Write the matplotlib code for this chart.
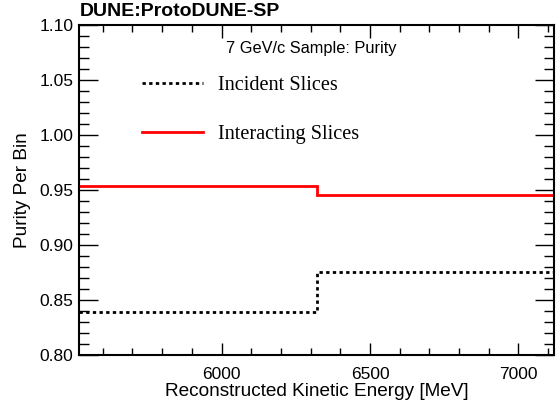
import matplotlib
matplotlib.use("Agg")
import matplotlib.pyplot as plt
from matplotlib.ticker import MultipleLocator
import numpy as np

# bin edges (MeV) and per-bin purity
bin_edges = [5520, 6320, 7120]
incident_purity = [0.8394, 0.8753]
interacting_purity = [0.9536, 0.9456]

plt.rcParams['font.family'] = ['Liberation Sans', 'DejaVu Sans']

fig = plt.figure(figsize=(5.6, 4.08), dpi=100)
ax = fig.add_axes([79 / 560, 1 - 355 / 408, (554 - 79) / 560, (355 - 25) / 408])

ax.stairs(incident_purity, bin_edges, color='black', linestyle=(0, (1.2, 1.2)),
          linewidth=2.0, baseline=None, label='Incident Slices')
ax.stairs(interacting_purity, bin_edges, color='red', linewidth=2.0,
          baseline=None, label='Interacting Slices')

ax.set_xlim(bin_edges[0], bin_edges[-1])
ax.set_ylim(0.80, 1.10)
ax.xaxis.set_major_locator(MultipleLocator(500))
ax.xaxis.set_minor_locator(MultipleLocator(100))
ax.yaxis.set_major_locator(MultipleLocator(0.05))
ax.yaxis.set_minor_locator(MultipleLocator(0.01))
ax.yaxis.set_major_formatter(plt.FormatStrFormatter('%.2f'))
ax.tick_params(which='both', direction='in', top=True, right=True, labelsize=12.5, width=1)
ax.tick_params(axis='y', which='major', length=14, pad=4)
ax.tick_params(axis='y', which='minor', length=7)
ax.tick_params(axis='x', which='major', length=9, pad=8.5)
ax.tick_params(axis='x', which='minor', length=5)
for s in ax.spines.values():
    s.set_linewidth(1.5)

ax.set_xlabel('Reconstructed Kinetic Energy [MeV]', fontsize=13.7, labelpad=0.5)
ax.set_ylabel('Purity Per Bin', fontsize=13.7, labelpad=6)

fig.text(80 / 560, 1 - 12 / 408, 'DUNE:ProtoDUNE-SP', fontsize=14,
         fontweight='bold', ha='left', va='center')
ax.text(0.49, 0.93, '7 GeV/c Sample: Purity', transform=ax.transAxes,
        fontsize=11.8, ha='center', va='center')

leg = ax.legend(loc='upper left', bbox_to_anchor=(0.094, 0.9), frameon=False,
                prop={'family': 'Liberation Serif', 'size': 14.6},
                handlelength=3.0, handletextpad=0.75, labelspacing=1.45)

fig.savefig('out.png', dpi=100)
